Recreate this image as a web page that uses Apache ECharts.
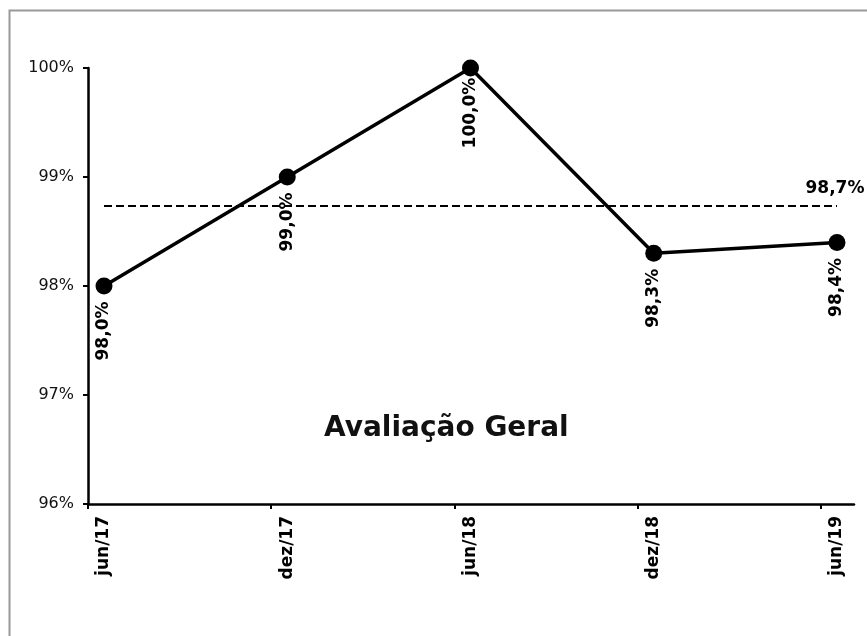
<!DOCTYPE html>
<html>
<head>
<meta charset="utf-8">
<script src="https://cdn.jsdelivr.net/npm/echarts@6/dist/echarts.min.js"></script>
<style>
html, body { margin: 0; padding: 0; background: #fff; }
#container { width: 867px; height: 636px; }
</style>
</head>
<body>
<div id="container"></div>
<script>
var dom = document.getElementById("container");
var myChart = echarts.init(dom);

// dados
var categories = ['jun/17', 'dez/17', 'jun/18', 'dez/18', 'jun/19'];
var values = [98.0, 99.0, 100.0, 98.3, 98.4];
var yTicks = [96, 97, 98, 99, 100];
var chartTitle = 'Avaliação Geral';

var fontFam = '"DejaVu Sans", Verdana, sans-serif';
var tickShift = 0.0873;

var avg = 0;
for (var i = 0; i < values.length; i++) avg += values[i];
avg = avg / values.length;

function fmtPct(v) {
	return v.toFixed(1).replace('.', ',') + '%';
}

var points = values.map(function (v, i) { return [i, v]; });
var labelIdx = categories.map(function (c, i) { return i; });
var tickIdx = categories.map(function (c, i) { return i - tickShift; });

var option = {
	animation: false,
	backgroundColor: '#fff',
	title: {
		text: chartTitle,
		left: 324,
		top: 415,
		padding: 0,
		textStyle: {
			fontFamily: fontFam,
			fontSize: 28,
			fontWeight: 'bold',
			color: '#111'
		}
	},
	graphic: [{
		type: 'rect',
		silent: true,
		shape: { x: 9.5, y: 10.5, width: 900, height: 700 },
		style: { fill: 'none', stroke: '#999', lineWidth: 2 }
	}],
	grid: {
		left: 88,
		right: 13,
		top: 68,
		bottom: 132,
		containLabel: false
	},
	xAxis: {
		type: 'value',
		min: -tickShift,
		max: 4.0928,
		splitLine: { show: false },
		axisLine: { onZero: false, lineStyle: { color: '#000', width: 2.5 } },
		axisTick: {
			show: true,
			length: 5,
			customValues: tickIdx,
			lineStyle: { color: '#000', width: 2 }
		},
		axisLabel: {
			customValues: labelIdx,
			rotate: 90,
			margin: 12,
			fontFamily: fontFam,
			fontSize: 17,
			fontWeight: 'bold',
			color: '#000',
			formatter: function (v) { return categories[Math.round(v)]; }
		}
	},
	yAxis: {
		type: 'value',
		min: yTicks[0],
		max: yTicks[yTicks.length - 1],
		interval: 1,
		splitLine: { show: false },
		axisLine: { show: true, onZero: false, lineStyle: { color: '#000', width: 2.5 } },
		axisTick: { show: true, length: 5, lineStyle: { color: '#000', width: 2 } },
		axisLabel: {
			margin: 14,
			fontFamily: fontFam,
			fontSize: 16,
			color: '#111',
			formatter: '{value}%'
		}
	},
	series: [{
		type: 'line',
		data: points,
		symbol: 'circle',
		symbolSize: 17,
		lineStyle: { color: '#000', width: 3.5 },
		itemStyle: { color: '#000' },
		label: {
			show: true,
			position: 'inside',
			rotate: 90,
			offset: [-45, 0],
			align: 'center',
			verticalAlign: 'middle',
			fontFamily: fontFam,
			fontSize: 17,
			fontWeight: 'bold',
			color: '#000',
			formatter: function (p) { return fmtPct(p.value[1]); }
		},
		markLine: {
			silent: true,
			symbol: 'none',
			lineStyle: { color: '#000', width: 2, type: [8, 4] },
			label: {
				show: true,
				position: 'insideEndTop',
				align: 'center',
				distance: [2, 8],
				fontFamily: fontFam,
				fontSize: 17,
				fontWeight: 'bold',
				color: '#000',
				formatter: function () { return fmtPct(avg); }
			},
			data: [[
				{ coord: [0, avg] },
				{ coord: [categories.length - 1, avg] }
			]]
		}
	}]
};

myChart.setOption(option);
</script>
</body>
</html>
